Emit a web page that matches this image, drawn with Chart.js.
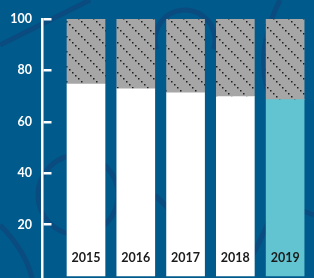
<!DOCTYPE html>
<html>
<head>
<meta charset="utf-8">
<script src="https://cdn.jsdelivr.net/npm/chart.js@4"></script>
<style>
  html, body { margin: 0; padding: 0; background: #005a8b; }
  #wrap { width: 314px; height: 278px; }
</style>
</head>
<body>
<div id="wrap"><canvas id="grafico"></canvas></div>
<script>
const anos = ['2015', '2016', '2017', '2018', '2019'];
const parteBaixo = [74.7, 72.8, 71.3, 69.8, 68.6];
const parteCima = [25.3, 28, 28.7, 30.2, 31.4];
const coresBaixo = ['#ffffff', '#ffffff', '#ffffff', '#ffffff', '#62c3d1'];

// hachura pontilhada da parte cinza
function hachura() {
  const c = document.createElement('canvas');
  c.width = 15;
  c.height = 15;
  const g = c.getContext('2d');
  g.fillStyle = '#a6a6a6';
  g.fillRect(0, 0, 15, 15);
  g.fillStyle = '#1e1e1e';
  for (let k = 0; k < 5; k++) {
    g.fillRect(k * 3, k * 3, 1.5, 1.5);
  }
  return g.createPattern(c, 'repeat');
}

// fundo azul com as curvas decorativas
const fundo = {
  id: 'fundo',
  beforeDraw(chart) {
    const ctx = chart.ctx;
    ctx.save();
    ctx.fillStyle = '#005a8b';
    ctx.fillRect(0, 0, chart.width, chart.height);
    ctx.strokeStyle = '#0a4c80';
    ctx.lineWidth = 5;
    ctx.beginPath();
    ctx.moveTo(0, 45);
    ctx.quadraticCurveTo(50, 20, 90, 0);
    ctx.stroke();
    ctx.beginPath();
    ctx.arc(78, 195, 40, 0, Math.PI * 2);
    ctx.stroke();
    ctx.beginPath();
    ctx.moveTo(0, 225);
    ctx.quadraticCurveTo(25, 250, 32, 278);
    ctx.stroke();
    ctx.beginPath();
    ctx.arc(185, 40, 30, Math.PI * 0.9, Math.PI * 2.1);
    ctx.stroke();
    ctx.beginPath();
    ctx.moveTo(280, 0);
    ctx.quadraticCurveTo(250, 60, 275, 110);
    ctx.quadraticCurveTo(300, 170, 250, 260);
    ctx.stroke();
    ctx.beginPath();
    ctx.moveTo(155, 195);
    ctx.lineTo(180, 220);
    ctx.stroke();
    ctx.beginPath();
    ctx.moveTo(300, 210);
    ctx.lineTo(314, 215);
    ctx.stroke();
    ctx.restore();
  }
};

// anos escritos dentro das barras
const rotulosAnos = {
  id: 'rotulosAnos',
  afterDatasetsDraw(chart) {
    const ctx = chart.ctx;
    const meta = chart.getDatasetMeta(0);
    const y = chart.scales.y.getPixelForValue(0) - 18;
    ctx.save();
    ctx.font = 'bold 12.5px Lato';
    ctx.fillStyle = '#1b1b1b';
    ctx.textAlign = 'center';
    ctx.textBaseline = 'middle';
    meta.data.forEach((barra, i) => {
      ctx.fillText(anos[i], barra.x, y);
    });
    ctx.restore();
  }
};

const grafico = document.getElementById('grafico');

new Chart(grafico, {
  type: 'bar',
  data: {
    datasets: [
      {
        label: 'base',
        data: parteBaixo.map((v, i) => ({ x: i, y: v })),
        backgroundColor: coresBaixo,
        borderWidth: 0,
        barThickness: 38,
      },
      {
        label: 'resto',
        data: parteCima.map((v, i) => ({ x: i, y: v })),
        backgroundColor: hachura(),
        borderWidth: 0,
        barThickness: 38,
      },
    ],
  },
  options: {
    responsive: true,
    maintainAspectRatio: false,
    animation: false,
    layout: {
      padding: { top: 19, left: 10, right: 0, bottom: 0 },
    },
    scales: {
      x: {
        type: 'linear',
        stacked: true,
        display: false,
        offset: false,
        grid: { offset: false },
        min: -0.884,
        max: 4.58,
      },
      y: {
        stacked: true,
        min: -0.8,
        max: 100,
        afterBuildTicks(scale) {
          scale.ticks = scale.ticks.filter(t => t.value >= 0);
        },
        afterFit(scale) {
          scale.width = 32;
          scale.paddingTop = 0;
          scale.paddingBottom = 0;
        },
        ticks: {
          stepSize: 20,
          padding: 10,
          color: '#ffffff',
          font: { family: 'Lato', weight: 'bold', size: 12.5 },
        },
        grid: {
          drawTicks: false,
          drawOnChartArea: true,
          color: '#ffffff',
          lineWidth: 2.5,
        },
        border: {
          display: true,
          color: '#ffffff',
          width: 2.5,
          dash: [8, 1000],
        },
      },
    },
    plugins: {
      legend: { display: false },
      tooltip: { enabled: false },
    },
  },
  plugins: [fundo, rotulosAnos],
});
</script>
</body>
</html>
